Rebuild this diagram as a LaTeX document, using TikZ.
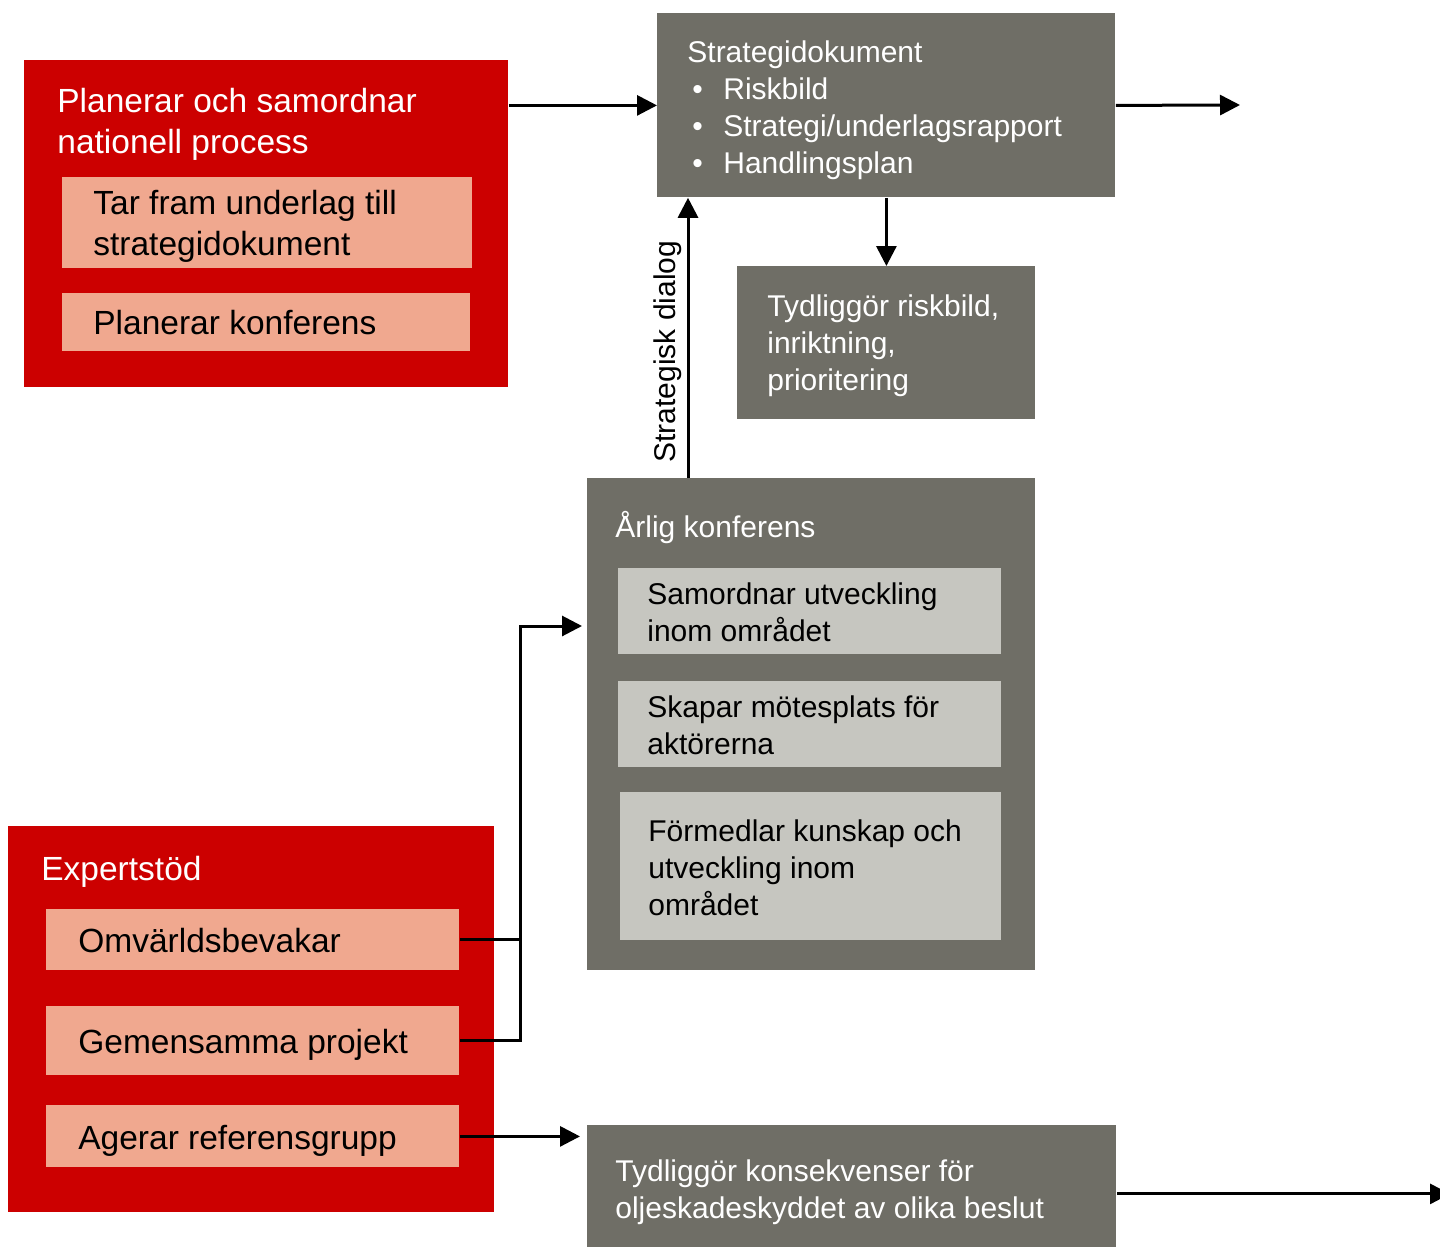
\documentclass[tikz,border=0pt]{standalone}
\usepackage{fontspec}
\setmainfont{Liberation Sans}
\usetikzlibrary{arrows.meta}
\newdimen\pxu \pxu=0.5pt
\definecolor{redbg}{HTML}{CC0000}
\definecolor{salmon}{HTML}{F0A88F}
\definecolor{boxgray}{HTML}{6F6E66}
\definecolor{lightbox}{HTML}{C6C6C0}
\newcommand{\fl}{\rule{0pt}{1em}}
\newcommand{\bul}{\makebox[18pt][l]{\hspace{2.5pt}\textbullet}}
\begin{document}
\begin{tikzpicture}[x=0.5pt,y=-0.5pt,
 box/.style={draw=none, inner sep=0pt, anchor=north west},
 redbox/.style={box, fill=redbg},
 salbox/.style={box, fill=salmon},
 graybox/.style={box, fill=boxgray},
 lgbox/.style={box, fill=lightbox},
 bigtxt/.style={font=\fontsize{16.75pt}{20.5pt}\selectfont, align=left, inner sep=0pt, anchor=north west},
 smtxt/.style={font=\fontsize{15pt}{18.5pt}\selectfont, align=left, inner sep=0pt, anchor=north west},
 conn/.style={line width=1.5pt},
 arr/.style={conn, -{Triangle[length=10pt,width=10pt]}},
]
\useasboundingbox (0,0) rectangle (1440,1247);

% boxes
\node[redbox, minimum width=484\pxu, minimum height=327\pxu] (red1) at (24,60) {};
\node[salbox, minimum width=410\pxu, minimum height=91\pxu] (sub1) at (62,177) {};
\node[salbox, minimum width=408\pxu, minimum height=58\pxu] (sub2) at (62,293) {};
\node[graybox, minimum width=458\pxu, minimum height=184\pxu] (strat) at (657,13) {};
\node[graybox, minimum width=298\pxu, minimum height=153\pxu] (tyd) at (737,266) {};
\node[graybox, minimum width=448\pxu, minimum height=492\pxu] (arlig) at (587,478) {};
\node[lgbox, minimum width=383\pxu, minimum height=86\pxu] (in1) at (618,568) {};
\node[lgbox, minimum width=383\pxu, minimum height=86\pxu] (in2) at (618,681) {};
\node[lgbox, minimum width=381\pxu, minimum height=148\pxu] (in3) at (620,792) {};
\node[redbox, minimum width=486\pxu, minimum height=386\pxu] (exp) at (8,826) {};
\node[salbox, minimum width=413\pxu, minimum height=61\pxu] (omv) at (46,909) {};
\node[salbox, minimum width=413\pxu, minimum height=69\pxu] (gem) at (46,1006) {};
\node[salbox, minimum width=413\pxu, minimum height=62\pxu] (ager) at (46,1105) {};
\node[graybox, minimum width=529\pxu, minimum height=137\pxu] (bot) at (587,1125) {};

% texts
\node[bigtxt, text=white] (tred1) at (57,78.5) {\fl Planerar och samordnar\\nationell process};
\node[bigtxt] (tsub1) at (93,180.5) {\fl Tar fram underlag till\\strategidokument};
\node[bigtxt] (tsub2) at (93,300.5) {\fl Planerar konferens};
\node[smtxt, text=white] (tstrat) at (687,32) {\fl Strategidokument\\\bul Riskbild\\\bul Strategi/underlagsrapport\\\bul Handlingsplan};
\node[smtxt, text=white] (ttyd) at (767,286) {\fl Tydliggör riskbild,\\inriktning,\\prioritering};
\node[smtxt, text=white] (tarlig) at (615,507) {\fl Årlig konferens};
\node[smtxt] (tin1) at (647,574) {\fl Samordnar utveckling\\inom området};
\node[smtxt] (tin2) at (647,687) {\fl Skapar mötesplats för\\aktörerna};
\node[smtxt] (tin3) at (648,811) {\fl Förmedlar kunskap och\\utveckling inom\\området};
\node[bigtxt, text=white] (texp) at (41,846.5) {\fl Expertstöd};
\node[bigtxt] (tomv) at (78,918.5) {\fl Omvärldsbevakar};
\node[bigtxt] (tgem) at (78,1019.5) {\fl Gemensamma projekt};
\node[bigtxt] (tager) at (78,1115.5) {\fl Agerar referensgrupp};
\node[smtxt, text=white] (tbot) at (615,1151) {\fl Tydliggör konsekvenser för\\oljeskadeskyddet av olika beslut};
\node[font=\fontsize{15pt}{18.5pt}\selectfont, inner sep=0pt, rotate=90, anchor=base west] (sdlab) at (675,463) {Strategisk dialog};

% connectors
\coordinate (out1) at (1240,105);
\coordinate (sdx) at (688,0);
\coordinate (jx) at (520,626);
\coordinate (tipA) at (582,626);
\coordinate (tipB) at (580,0);
\coordinate (out2) at (1450,0);
\draw[arr] (red1.east |- strat.west) -- (strat.west);
\draw[arr] (strat.east) -- (out1);
\draw[arr] (strat.south) -- (tyd.north);
\draw[arr] (arlig.north -| sdx) -- (strat.south -| sdx);
\draw[conn] (omv.east) -- (omv.east -| jx);
\draw[arr] (gem.east) -| (jx) -- (tipA);
\draw[arr] (ager.east) -- (ager.east -| tipB);
\draw[arr] (bot.east) -- (bot.east -| out2);
\end{tikzpicture}
\end{document}
